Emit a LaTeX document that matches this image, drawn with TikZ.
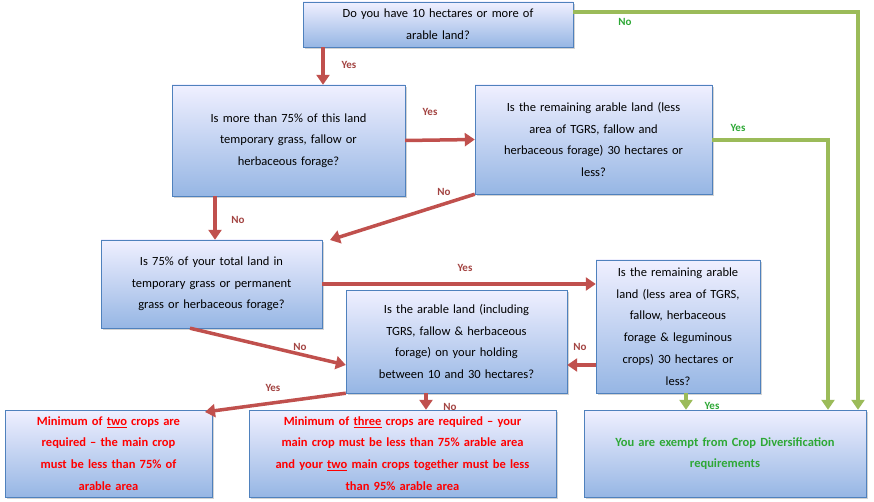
\documentclass[tikz,border=0pt]{standalone}
\usepackage{fontspec}
\setmainfont{Carlito}
\usetikzlibrary{shadows,arrows.meta}
\definecolor{bord}{HTML}{4F81BD}
\definecolor{redarr}{HTML}{C0504D}
\definecolor{grarr}{HTML}{9BBB59}
\definecolor{grtxt}{HTML}{2EA836}
\tikzset{
 box/.style={draw=bord, top color=blue!6!white, bottom color={rgb,255:red,150;green,182;blue,228}, drop shadow={opacity=0.35,shadow xshift=2pt,shadow yshift=-2pt}, align=center, font=\fontsize{12.5}{21.7}\selectfont, inner sep=2pt},
 rarr/.style={draw=redarr, line width=3.5pt, -{Triangle[length=10pt,width=13pt]}},
 garr/.style={draw=grarr, line width=3.5pt, -{Triangle[length=10pt,width=13pt]}},
 rlab/.style={text=redarr!85!black, font=\fontsize{11}{12}\selectfont\bfseries},
 glab/.style={text=grtxt, font=\fontsize{11}{12}\selectfont\bfseries},
}
\begin{document}
\begin{tikzpicture}[x=1pt,y=-1pt]
\useasboundingbox (0,0) rectangle (874,502);
\newcommand\bx[6]{\node[box, minimum width=#4-#2, minimum height=#5-#3, text width=#4-#2-14] (#1) at ({(#2+#4)/2},{(#3+#5)/2}) {#6};}
\bx{b1}{303}{2}{573}{47}{Do you have 10 hectares or more of\\arable land?}
\bx{b2}{172}{85}{405}{196}{Is more than 75\% of this land\\temporary grass, fallow or\\herbaceous forage?\\[8pt]}
\bx{b3}{475}{85}{712}{194}{Is the remaining arable land (less\\area of TGRS, fallow and\\herbaceous forage) 30 hectares or\\less?}
\bx{b4}{101}{240}{322}{328}{Is 75\% of your total land in\\temporary grass or permanent\\grass or herbaceous forage?}
\bx{b5}{596}{260}{760}{393}{Is the remaining arable\\land (less area of TGRS,\\fallow, herbaceous\\forage \& leguminous\\crops) 30 hectares or\\less?}
\bx{b6}{346}{290}{567}{393}{Is the arable land (including\\TGRS, fallow \& herbaceous\\forage) on your holding\\between 10 and 30 hectares?}
\bx{b7}{5}{410}{212}{497}{\color{red}\bfseries Minimum of \underline{two} crops are\\\color{red}\bfseries required -- the main crop\\\color{red}\bfseries must be less than 75\% of\\\color{red}\bfseries arable area}
\bx{b8}{249}{410}{556}{497}{\color{red}\bfseries Minimum of \underline{three} crops are required -- your\\\color{red}\bfseries main crop must be less than 75\% arable area\\\color{red}\bfseries and your \underline{two} main crops together must be less\\\color{red}\bfseries than 95\% arable area}
\bx{b9}{584}{410}{866}{497}{\color{grtxt}\bfseries You are exempt from Crop Diversification\\\color{grtxt}\bfseries requirements\\[6pt]}
% red arrows
\draw[rarr] (b1.south -| 323,0) -- (b2.north -| 323,0);
\node[rlab] at (349,65) {Yes};
\draw[rarr] (b2.east) -- (b3.west);
\node[rlab] at (430,112) {Yes};
\draw[rarr] (b3.south west) -- (330,240);
\node[rlab] at (444,192) {No};
\draw[rarr] (b2.south -| 215,0) -- (b4.north -| 215,0);
\node[rlab] at (238,220) {No};
\draw[rarr] (b4.east) -- (b5.west |- b4.east);
\node[rlab] at (465,268) {Yes};
\draw[rarr] (b4.south -| 190,0) -- (b6.west |- 0,365);
\node[rlab] at (300,347) {No};
\draw[rarr] (b5.west |- 0,365) -- (b6.east |- 0,365);
\node[rlab] at (580,347) {No};
\draw[rarr] (b6.south west) -- (205,412);
\node[rlab] at (273,388) {Yes};
\draw[rarr] (b6.south -| 426,0) -- (b8.north -| 426,0);
\node[rlab] at (450,407) {No};
% green
\draw[garr] (b5.south -| 686,0) -- (b9.north -| 686,0);
\node[glab] at (712,406) {Yes};
\draw[garr] (b1.east |- 0,12) -- (858,12) -- (b9.north -| 858,0);
\node[glab] at (625,22) {No};
\draw[garr] (b3.east |- 0,140) -- (828,140) -- (b9.north -| 828,0);
\node[glab] at (738,128) {Yes};
\end{tikzpicture}
\end{document}
